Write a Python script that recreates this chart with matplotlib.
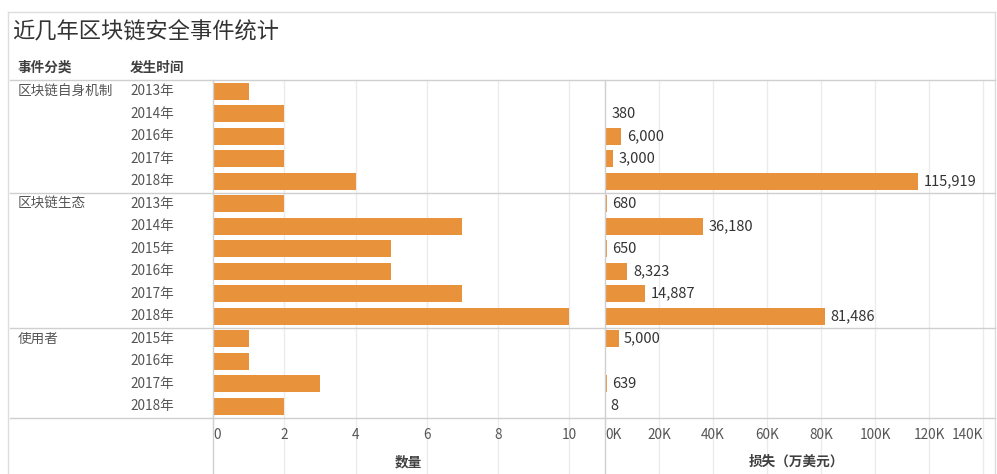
import numpy as np
import matplotlib
matplotlib.use("Agg")
import matplotlib.pyplot as plt
from matplotlib.lines import Line2D
from matplotlib.transforms import blended_transform_factory

plt.rcParams['font.family'] = ['Noto Sans CJK SC', 'DejaVu Sans']

# data
groups = ["区块链自身机制", "区块链生态", "使用者"]
group_years = [
    ["2013年", "2014年", "2016年", "2017年", "2018年"],
    ["2013年", "2014年", "2015年", "2016年", "2017年", "2018年"],
    ["2015年", "2016年", "2017年", "2018年"],
]
counts = [1, 2, 2, 2, 4,
          2, 7, 5, 5, 7, 10,
          1, 1, 3, 2]
losses = [np.nan, 380, 6000, 3000, 115919,
          680, 36180, 650, 8323, 14887, 81486,
          5000, np.nan, 639, 8]
count_ticks = [0, 2, 4, 6, 8, 10]
loss_ticks = [0, 20000, 40000, 60000, 80000, 100000, 120000, 140000]
loss_tick_labels = ["0K", "20K", "40K", "60K", "80K", "100K", "120K", "140K"]

BAR = "#E8923C"
TXT = "#555555"
DARK = "#333333"
HEAD = "#404040"
GRID = "#EBEBEB"
LINE = "#CFCFCF"

W, H = 997, 474
fig = plt.figure(figsize=(W / 100, H / 100), dpi=100)


def fx(x):
    return x / W


def fy(y):
    return 1 - y / H


def fig_line(x0, y0, x1, y1, color=LINE, lw=1.0):
    fig.add_artist(Line2D([fx(x0), fx(x1)], [fy(y0), fy(y1)],
                          transform=fig.transFigure, color=color, lw=lw))


top, bottom = 80, 417.5
x_left, x_mid, x_right = 213, 605, 985
ax1 = fig.add_axes([fx(x_left), fy(bottom), fx(x_mid - x_left), (bottom - top) / H])
ax2 = fig.add_axes([fx(x_mid), fy(bottom), fx(x_right - x_mid), (bottom - top) / H])

n = len(counts)
rows = np.arange(n)
ext = (H - bottom) / (bottom - top)

for ax in (ax1, ax2):
    ax.set_ylim(n - 0.5, -0.5)
    for s in ax.spines.values():
        s.set_visible(False)
    ax.set_yticks([])
    ax.tick_params(axis='x', length=0, pad=7.5, labelsize=9.8, labelcolor=TXT)

ax1.set_xlim(0, 11)
ax1.barh(rows, counts, height=0.75, color=BAR, zorder=3)
ax1.set_xticks(count_ticks)
for t in count_ticks[1:]:
    ax1.axvline(t, ymin=-ext, ymax=1, color=GRID, lw=1, clip_on=False, zorder=1)
ax1.get_xticklabels()[0].set_ha('left')

ax2.set_xlim(0, 140700)
ax2.barh(rows, np.nan_to_num(losses), height=0.75, color=BAR, zorder=3)
ax2.set_xticks(loss_ticks)
ax2.set_xticklabels(loss_tick_labels)
for t in loss_ticks[1:]:
    ax2.axvline(t, ymin=-ext, ymax=1, color=GRID, lw=1, clip_on=False, zorder=1)
labels2 = ax2.get_xticklabels()
labels2[0].set_ha('left')
labels2[-1].set_ha('right')
for r, v in zip(rows, losses):
    if np.isnan(v):
        continue
    ax2.annotate(f"{int(v):,}", (v, r), xytext=(4, 0), textcoords='offset points',
                 va='center', ha='left', fontsize=10.5, color=DARK)

# row headers
tr = blended_transform_factory(fig.transFigure, ax1.transData)
r = 0
for g, yrs in zip(groups, group_years):
    ax1.text(fx(18), r, g, transform=tr, va='center', ha='left', fontsize=9.8, color=TXT)
    for yr in yrs:
        ax1.text(fx(130), r, yr, transform=tr, va='center', ha='left', fontsize=9.8, color=TXT)
        r += 1

# title, column headers, axis titles
fig.text(fx(12), fy(32), "近几年区块链安全事件统计", fontsize=16, color="#333333", va='center', ha='left')
fig.text(fx(17), fy(68), "事件分类", fontsize=9.8, color=HEAD, va='center', ha='left', fontweight='bold')
fig.text(fx(130), fy(68), "发生时间", fontsize=9.8, color=HEAD, va='center', ha='left', fontweight='bold')
fig.text(fx(408), fy(462), "数量", fontsize=9.8, color=HEAD, va='center', ha='center', fontweight='bold')
fig.text(fx(796), fy(462), "损失（万美元）", fontsize=9.8, color=HEAD, va='center', ha='center', fontweight='bold')

# frame and separators
fig_line(8, 12, 995, 12, color="#DDDDDD")
fig_line(8, 12, 8, H, color="#DDDDDD")
fig_line(995, 12, 995, H, color="#DDDDDD")
fig_line(10, top, 995, top)
fig_line(10, bottom, 995, bottom)
for sep in (192.5, 327.5):
    fig_line(10, sep, 995, sep)
fig_line(x_left, top, x_left, H)
fig_line(x_mid, top, x_mid, H)

fig.savefig("out.png", dpi=100)
